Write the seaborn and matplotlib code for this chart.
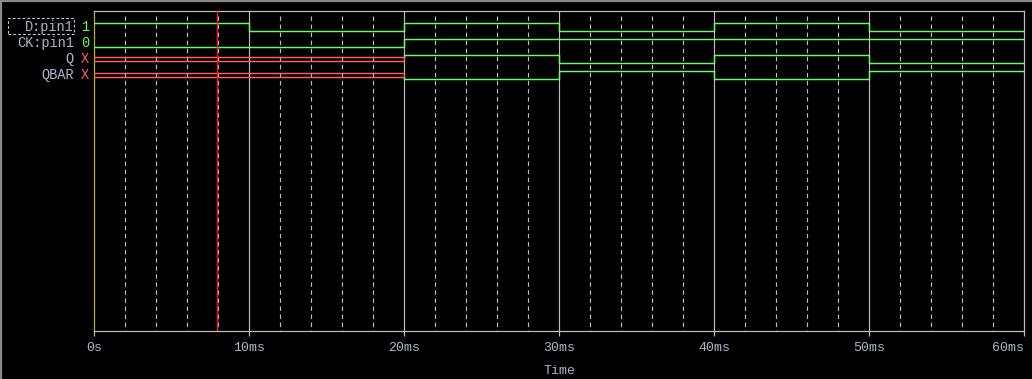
import matplotlib
matplotlib.use("Agg")
import matplotlib.pyplot as plt
import seaborn as sns
import pandas as pd
from matplotlib.lines import Line2D
from matplotlib.patches import Rectangle

# ---------------- data ----------------
signal_names = ["D:pin1", "CK:pin1", "Q", "QBAR"]
cursor_values = ["1", "0", "X", "X"]
seg_edges_ms = [0, 10, 20, 30, 40, 50, 60]
d_states = ["1", "0", "1", "0", "1", "0"]
ck_states = ["0", "0", "1", "1", "1", "1"]
q_states = ["X", "X", "1", "0", "1", "0"]
qbar_states = ["X", "X", "0", "1", "0", "1"]
cursor_ms = 7.95
tick_ms = [0, 10, 20, 30, 40, 50, 60]
tick_labels = ["0s", "10ms", "20ms", "30ms", "40ms", "50ms", "60ms"]
minor_ms = [2, 4, 6, 8, 12, 14, 16, 18, 22, 24, 26, 28, 32, 34, 36, 38,
            42, 44, 46, 48, 52, 54, 56, 58]
x_label = "Time"
all_states = [d_states, ck_states, q_states, qbar_states]

# ---------------- style ----------------
W, H = 1032, 379
BG = "#000000"
GREEN = "#66ff66"
XRED = "#ff6060"
CURSOR = "#ff1a1a"
GRID = "#bdbdbd"
TEXT = "#a6b8c8"
YAXIS = "#b0b040"

sns.set_theme(style="dark", rc={"axes.facecolor": BG, "figure.facecolor": BG,
                                 "lines.scale_dashes": False})
plt.rcParams["font.family"] = ["Liberation Mono", "DejaVu Sans Mono"]

fig = plt.figure(figsize=(W / 100, H / 100), dpi=100)
L, R, T, B = 94, 1024, 11, 331
ax = fig.add_axes([L / W, 1 - B / H, (R - L) / W, (B - T) / H])
ax.set_facecolor(BG)
ax.set_xlim(tick_ms[0], tick_ms[-1])
ax.set_ylim(B, T)  # pixel-like rows, top down

ROW0, ROWSTEP, LEVEL = 23, 16, 8

# ---------------- build traces ----------------
rows = []
uid = 0


def add_line(pts, kind):
    global uid
    for (t, y) in pts:
        rows.append({"seg": uid, "kind": kind, "t": t, "y": y})
    uid += 1


for i, states in enumerate(all_states):
    hi = ROW0 + ROWSTEP * i
    lo = hi + LEVEL
    green = []
    for k, s in enumerate(states):
        t0, t1 = seg_edges_ms[k], seg_edges_ms[k + 1]
        if s == "X":
            if green:
                add_line(green, "v")
                green = []
            add_line([(t0, hi + 2), (t1, hi + 2)], "x")
            add_line([(t0, lo - 2), (t1, lo - 2)], "x")
            if k + 1 < len(states) and states[k + 1] != "X":
                add_line([(t1, hi + 2), (t1, lo - 2)], "x")
                start = hi + 2 if states[k + 1] == "1" else lo - 2
                green = [(t1, start)]
        else:
            y = hi if s == "1" else lo
            green += [(t0, y), (t1, y)]
    if green:
        add_line(green, "v")

df = pd.DataFrame(rows)

# ---------------- grid ----------------
ax.vlines(minor_ms, 16, B, colors=GRID, linewidth=0.85,
          linestyles=(0, (3.2, 2.6)), zorder=1)
ax.vlines(tick_ms[1:-1], T, B, colors=GRID, linewidth=0.85, zorder=1)

sns.lineplot(data=df, x="t", y="y", units="seg", hue="kind",
             palette={"v": GREEN, "x": XRED}, estimator=None, sort=False,
             legend=False, linewidth=1.05, ax=ax, zorder=3)

ax.axvline(cursor_ms, color=CURSOR, linewidth=0.95, zorder=4)

# ---------------- axes ----------------
for side in ["top", "right", "bottom"]:
    ax.spines[side].set_visible(True)
    ax.spines[side].set_color(GRID)
    ax.spines[side].set_linewidth(0.9)
ax.spines["left"].set_visible(True)
ax.spines["left"].set_color(YAXIS)
ax.spines["left"].set_linewidth(0.9)

ax.set_yticks([])
ax.set_xticks(tick_ms)
ax.set_xticklabels(tick_labels)
ax.tick_params(axis="x", direction="out", length=3.6, width=0.85, color=GRID,
               labelcolor=TEXT, labelsize=9.5, pad=4, bottom=True)
ax.get_xticklabels()[-1].set_horizontalalignment("right")
ax.set_xlabel(x_label, color=TEXT, fontsize=9.5, labelpad=8)
ax.set_ylabel("")
ax.grid(False)

# ---------------- signal names ----------------
for i, (name, val) in enumerate(zip(signal_names, cursor_values)):
    yc = ROW0 + ROWSTEP * i + LEVEL / 2
    fig.text(74 / W, 1 - yc / H, name, color=TEXT, fontsize=9.8,
             ha="right", va="center")
    fig.text(85 / W, 1 - yc / H, val, color=XRED if val == "X" else GREEN,
             fontsize=9.8, ha="center", va="center")

# dashed selection box around first name
fig.patches.append(Rectangle((8 / W, 1 - 34 / H), 66 / W, 16 / H,
                             transform=fig.transFigure, fill=False,
                             edgecolor="#c8c8c8", linewidth=0.8,
                             linestyle=(0, (2, 1.5))))
# window frame: top and left edges only
fig.lines.append(Line2D([0, 1], [1 - 1 / H, 1 - 1 / H], transform=fig.transFigure,
                        color="#8a8a8a", linewidth=1.6))
fig.lines.append(Line2D([1 / W, 1 / W], [0, 1], transform=fig.transFigure,
                        color="#8a8a8a", linewidth=1.6))

fig.savefig("out.png", dpi=100, facecolor=BG)
